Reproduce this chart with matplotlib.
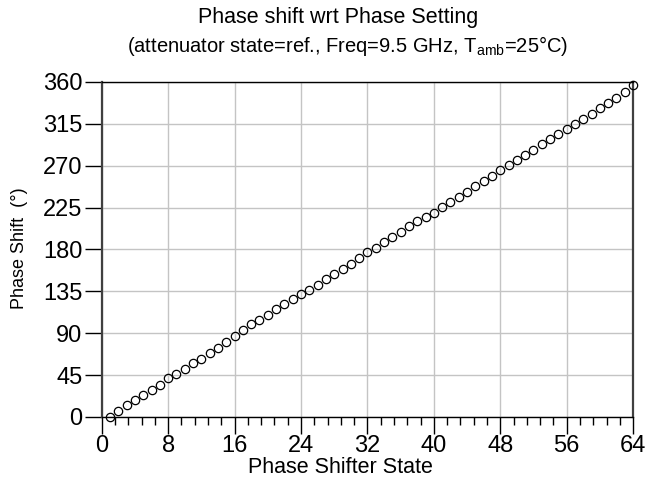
import numpy as np
import matplotlib
matplotlib.use("Agg")
import matplotlib.pyplot as plt
from matplotlib.ticker import MultipleLocator

plt.rcParams['font.family'] = ['Liberation Sans', 'DejaVu Sans']

# measured phase shift for each phase shifter state
states = list(range(1, 65))
phase = [0.0, 6.3, 12.4, 18.3, 23.5, 29.2, 34.6, 41.3, 45.6, 51.4,
         57.6, 62.6, 69.0, 74.0, 80.4, 86.8, 93.1, 99.6, 104.2, 109.8,
         115.9, 121.3, 126.4, 131.6, 136.2, 142.0, 148.1, 153.6, 159.3, 164.8,
         171.0, 177.4, 182.0, 188.1, 193.7, 199.2, 204.8, 210.3, 215.1, 219.4,
         225.6, 231.0, 236.8, 242.2, 247.7, 253.3, 259.4, 265.8, 270.3, 276.0,
         281.5, 287.2, 292.8, 298.5, 303.9, 309.6, 315.1, 320.4, 326.0, 331.8,
         337.3, 343.0, 349.6, 356.8]

xticks = list(range(0, 65, 8))
yticks = list(range(0, 361, 45))

fig = plt.figure(figsize=(6.48, 4.82), dpi=100)
ax = fig.add_axes([0.157, 0.135, 0.820, 0.695])

ax.plot(states, phase, linestyle='none', marker='o', markersize=6,
        markerfacecolor='none', markeredgecolor='black', markeredgewidth=0.9,
        clip_on=False, zorder=3)

ax.set_xlim(0, 64)
ax.set_ylim(0, 360)
ax.set_xticks(xticks)
ax.set_yticks(yticks)
ax.xaxis.set_minor_locator(MultipleLocator(1.6))
ax.grid(True, which='major', color='#c4c4c4', linewidth=1.0)
ax.set_axisbelow(True)

ax.tick_params(axis='both', which='major', direction='out', length=12,
               width=1.0, labelsize=17, color='black', pad=2)
ax.tick_params(axis='x', which='major', pad=1)
ax.tick_params(axis='x', which='minor', direction='out', length=6, width=1.0)
ax.tick_params(axis='y', which='minor', left=False)

for side in ['left', 'right']:
    ax.spines[side].set_color('#404040')
    ax.spines[side].set_linewidth(1.6)
ax.spines['top'].set_linewidth(1.0)
ax.spines['bottom'].set_linewidth(1.0)

fig.text(0.522, 0.963, 'Phase shift wrt Phase Setting', ha='center',
         va='center', fontsize=15.5)
fig.text(0.537, 0.905,
         r'(attenuator state=ref., Freq=9.5 GHz, T$_{\mathregular{amb}}$=25°C)',
         ha='center', va='center', fontsize=14.5)
fig.text(0.525, 0.030, 'Phase Shifter State', ha='center', va='center',
         fontsize=15.5)
fig.text(0.030, 0.485, 'Phase Shift  (°)', ha='center', va='center',
         rotation=90, fontsize=13)

fig.savefig('out.png', dpi=100)
